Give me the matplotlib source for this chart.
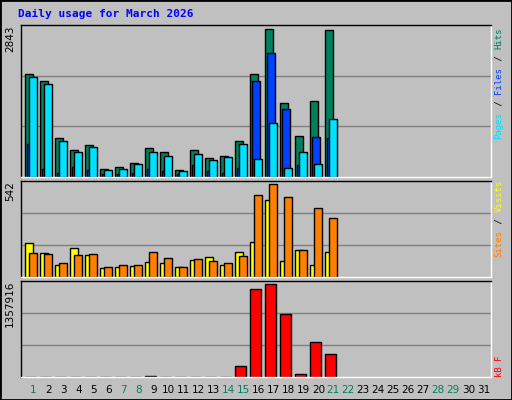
import matplotlib
matplotlib.use('Agg')
import matplotlib.pyplot as plt
import numpy as np

# Daily usage, March 2026 (days 1-21 have data)
days = np.arange(1, 22)
hits = [1975, 1840, 760, 527, 624, 160, 200, 277, 566, 489, 141, 527, 373, 412, 700,
        1975, 2843, 1434, 797, 1473, 2823]
files = [643, 160, 84, 200, 141, 64, 64, 84, 160, 122, 64, 238, 122, 84, 180,
         1840, 2380, 1318, 238, 778, 759]
pages = [1936, 1800, 700, 489, 585, 141, 160, 257, 489, 412, 122, 450, 334, 392, 643,
         354, 1048, 180, 489, 257, 1126]
visits = [196, 137, 67, 166, 125, 49, 55, 61, 84, 78, 55, 96, 114, 67, 143,
          202, 450, 90, 155, 67, 143]
sites = [137, 131, 78, 125, 131, 55, 67, 67, 143, 108, 55, 102, 90, 78, 119,
         478, 542, 466, 155, 401, 342]
kbytes = [5000, 5000, 5000, 5000, 5000, 5000, 5000, 5000, 22000, 5000, 5000, 5000, 5000, 5000,
          168500, 1283690, 1357916, 926760, 49560, 510460, 346910]
weekend = [1, 7, 8, 14, 15, 21, 22, 28, 29]

BG = '#c0c0c0'
fig = plt.figure(figsize=(5.12, 4.0), dpi=100, facecolor=BG)
fig.patches.append(plt.Rectangle((0, 0), 1, 1, transform=fig.transFigure,
                                 fill=False, edgecolor='black', linewidth=2))

W, H = 512.0, 400.0
left, width = 20.7 / W, 470 / W
panels = [(177.0, 152.0), (276.7, 96.0), (377.3, 96.6)]  # bottom px, height px
axes = [fig.add_axes([left, 1 - b / H, width, h / H]) for b, h in panels]

def style(ax, top):
    ax.set_facecolor(BG)
    ax.set_xlim(0.16, 31.49)
    ax.set_ylim(0, top)
    for g in (top / 3, 2 * top / 3):
        ax.axhline(g, color='#808080', linewidth=1, zorder=0)
    ax.set_xticks([])
    ax.set_yticks([])
    for s in ax.spines.values():
        s.set_color('black')
        s.set_linewidth(1)
    ax.spines['right'].set_color('white')
    ax.spines['bottom'].set_color('white')

kw = dict(align='edge', edgecolor='black', linewidth=1, zorder=2)
w = 0.49
ax1, ax2, ax3 = axes
ax1.bar(days - 0.533, hits, w, color='#00805c', **kw)
ax1.bar(days - 0.4, files, w, color='#0040ff', **kw)
ax1.bar(days - 0.267, pages, w, color='#00e0ff', **kw)
style(ax1, max(hits) * 1.03)

ax2.bar(days - 0.533, visits, w, color='#ffff00', **kw)
ax2.bar(days - 0.267, sites, w, color='#ff8000', **kw)
style(ax2, max(sites) * 1.04)

ax3.bar(days - 0.533, kbytes, 0.69, color='#ff0000', **kw)
style(ax3, max(kbytes) * 1.04)

# max value labels on the left
for ax, val in zip(axes, [max(hits), max(sites), max(kbytes)]):
    ax.text(-0.012, 1.0, str(val), transform=ax.transAxes, rotation=90,
            ha='right', va='top', fontsize=7.5, color='black')

# right-side legends, read bottom to top
def side_label(y0_px, pieces):
    y = y0_px
    for txt, col in pieces:
        fig.text(499 / W, 1 - y / H, txt, rotation=90, ha='center', va='bottom',
                 fontsize=6.5, family='DejaVu Sans Mono', color=col)
        y -= 5.6 * len(txt)

side_label(139, [('Pages', '#00e0ff'), (' / ', 'black'), ('Files', '#0040ff'),
                 (' / ', 'black'), ('Hits', '#00805c')])
side_label(257, [('Sites', '#ff8000'), (' / ', 'black'), ('Visits', '#ffff00')])
side_label(377, [('kB F', '#ff0000')])

# day labels
for d in range(1, 32):
    col = '#00805c' if d in weekend else 'black'
    ax3.text(d, -0.13, str(d), transform=ax3.get_xaxis_transform(),
             ha='center', va='center', fontsize=7.5, color=col)

fig.text(18 / W, 1 - 14 / H, 'Daily usage for March 2026', color='#0000ff',
         fontsize=8, family='DejaVu Sans Mono', fontweight='bold', va='center')

fig.savefig('out.png', dpi=100, facecolor=BG)
